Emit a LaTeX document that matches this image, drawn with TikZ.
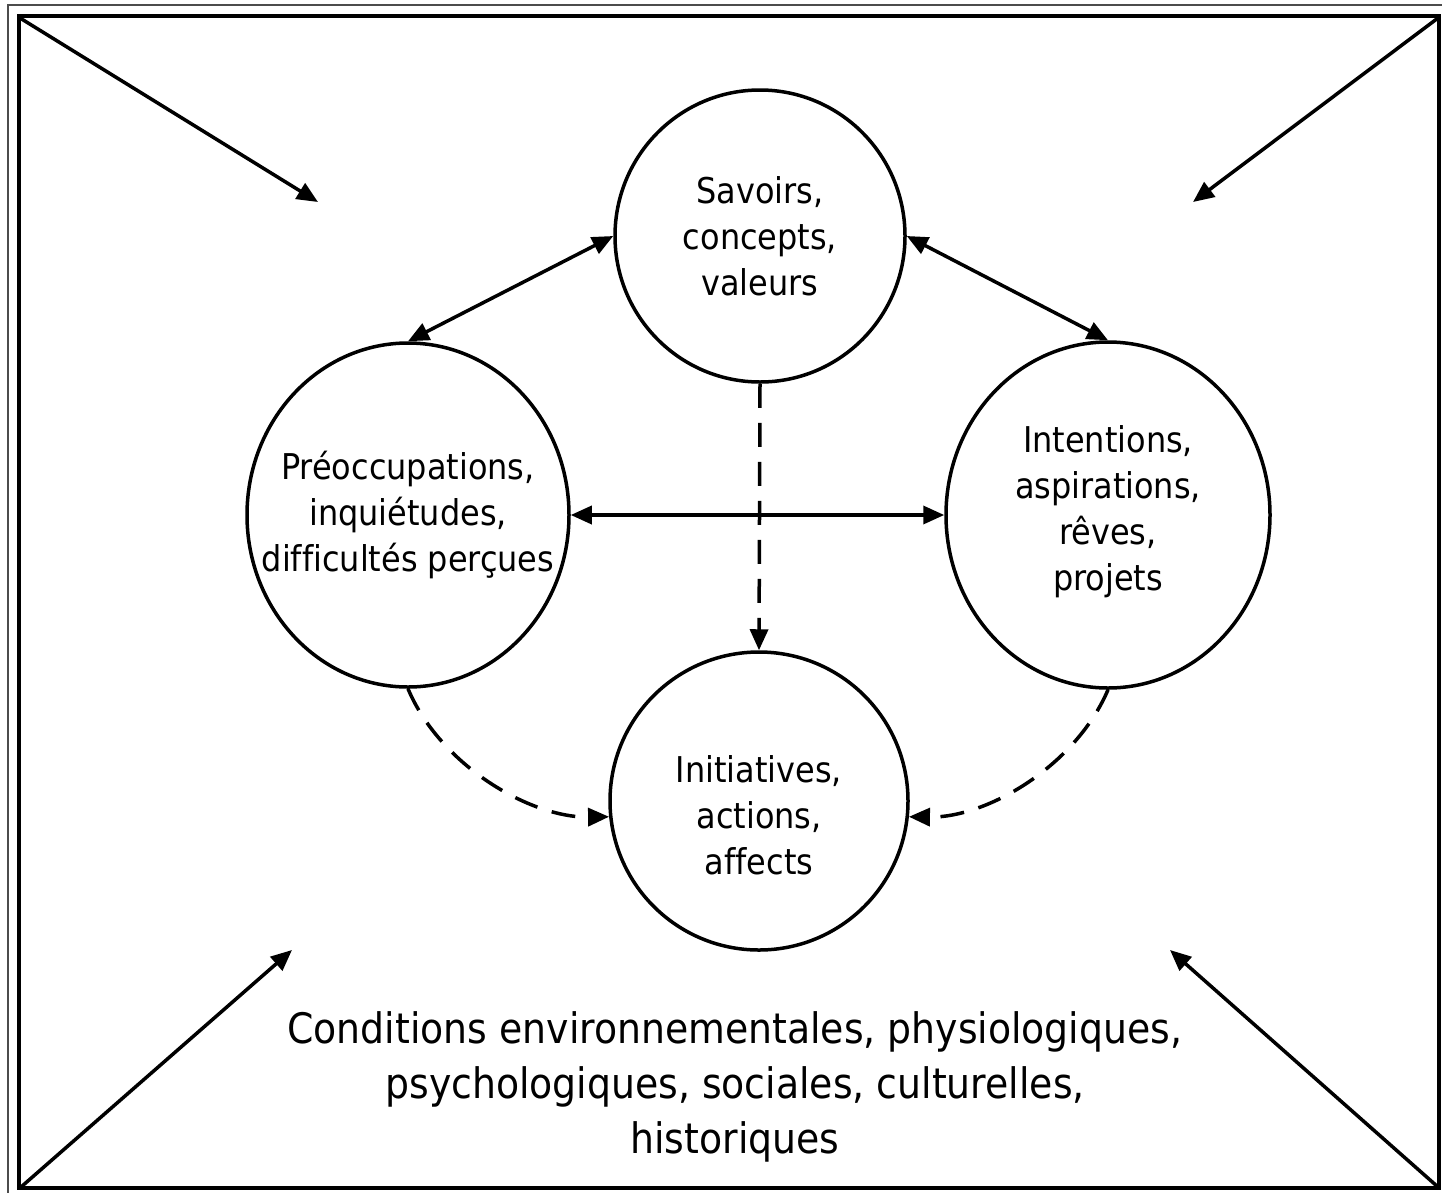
\documentclass[tikz,border=0pt]{standalone}
\usepackage{fontspec}
\setmainfont[Ligatures={NoCommon}]{DejaVu Sans Condensed}
\usetikzlibrary{arrows.meta,shapes.geometric}
\begin{document}
\begin{tikzpicture}[x=1pt,y=-1pt,
  bub/.style={draw,ellipse,line width=3.5pt,inner sep=0pt},
  txt/.style={align=center,font=\fontsize{35.5}{46}\selectfont,inner sep=0pt},
  con/.style={line width=3.5pt,-{Triangle[length=21pt,width=18pt]}},
  dcon/.style={con,dash pattern=on 24pt off 15pt},
  bcon/.style={line width=3.5pt,{Triangle[length=21pt,width=18pt]}-{Triangle[length=21pt,width=18pt]}}]
\useasboundingbox (0,0) rectangle (1442,1192);
\begin{scope}
\clip (0,0) rectangle (1442,1192);
\draw[line width=2.5pt,black!70] (8,5) rectangle (1460,1210);
\end{scope}
\draw[line width=3.5pt] (19,16) rectangle (1439,1188);
% corners
\coordinate (tl) at (20,18);
\coordinate (tr) at (1438,18);
\coordinate (bl) at (21,1187);
\coordinate (br) at (1438,1187);
\coordinate (tla) at (318,202);
\coordinate (tra) at (1193,202);
\coordinate (bla) at (292,950);
\coordinate (bra) at (1170,950);
\draw[con] (tl) -- (tla);
\draw[con] (tr) -- (tra);
\draw[con] (bl) -- (bla);
\draw[con] (br) -- (bra);
% circles
\node[bub,minimum width=290,minimum height=292] (S) at (760,236) {};
\node[bub,minimum width=322,minimum height=344] (L) at (408,515) {};
\node[bub,minimum width=324,minimum height=346] (R) at (1108,515) {};
\node[bub,minimum width=298,minimum height=298] (B) at (759,801) {};
\node[txt] (St) at (760,236) {Savoirs,\\concepts,\\valeurs};
\node[txt] (Lt) at (408,515) {Préoccupations,\\inquiétudes,\\difficultés perçues};
\node[txt] (Rt) at (1108,512) {Intentions,\\aspirations,\\rêves,\\projets};
\node[txt] (Bt) at (759,815) {Initiatives,\\actions,\\affects};
\node[align=center,inner sep=0pt,font=\fontsize{42}{55}\selectfont] (C) at (735,1087)
  {Conditions environnementales, physiologiques,\\psychologiques, sociales, culturelles,\\historiques};
% connectors
\draw[bcon] (S.180) -- (L.north);
\draw[bcon] (S.0) -- (R.north);
\draw[bcon] (L.0) -- (R.180);
\draw[dcon] (S.south) -- (B.north);
\draw[dcon] (L.-90) .. controls (440,765) and (530,818) .. (B.186.5);
\draw[dcon] (R.-90) .. controls (1076,765) and (988,818) .. (B.-6.5);
\end{tikzpicture}
\end{document}
